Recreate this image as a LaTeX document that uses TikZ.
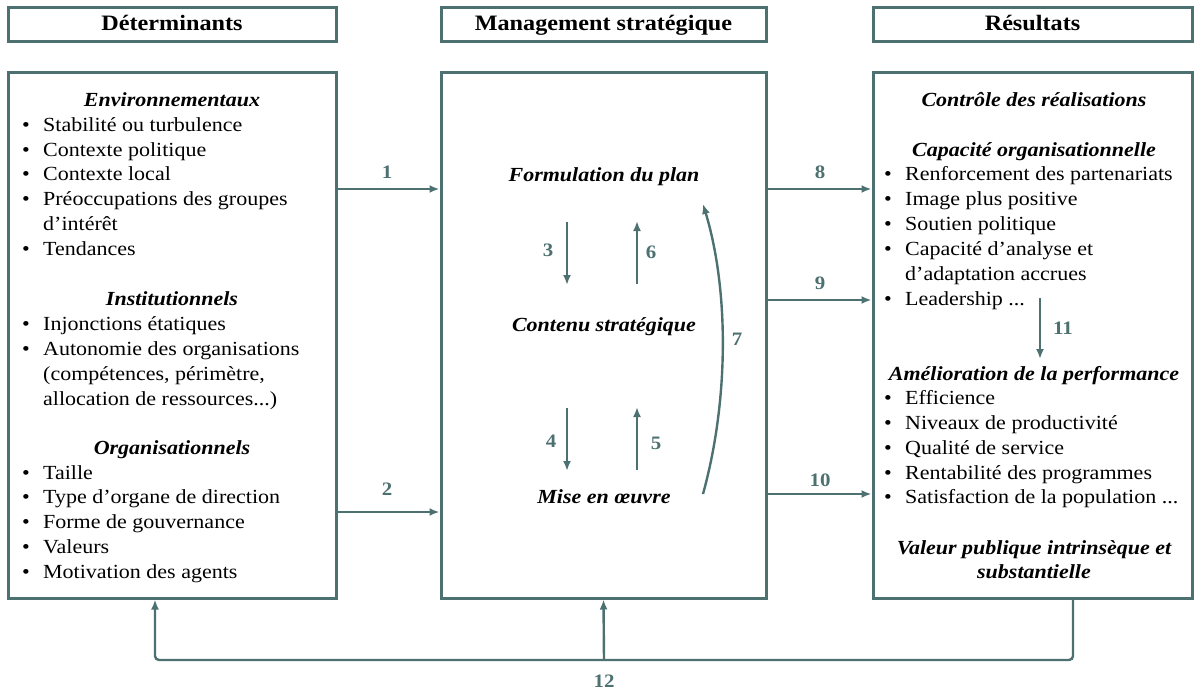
\documentclass[tikz,border=0pt]{standalone}
\usepackage{fontspec}
\setmainfont[FakeStretch=1.1]{Liberation Serif}
\usetikzlibrary{arrows.meta,calc}
\definecolor{teal}{HTML}{4D7171}
\newcommand\bul{\makebox[21pt][l]{\textbullet}}
\tikzset{
  box/.style={draw=teal,line width=3pt,inner sep=0pt},
  hdr/.style={box,minimum height=34pt,text height=15pt,text depth=4pt,font=\fontsize{22}{26}\selectfont\bfseries},
  txt/.style={anchor=base west,inner sep=0pt,font=\fontsize{20}{24}\selectfont},
  ttl/.style={anchor=base,inner sep=0pt,font=\fontsize{20}{24}\selectfont\bfseries\itshape},
  arr/.style={draw=teal,line width=2.4pt,-{Latex[length=10pt,width=8pt]}},
  num/.style={inner sep=0pt,text=teal,font=\fontsize{19}{21}\selectfont\bfseries},
}
\begin{document}
\begin{tikzpicture}[x=1pt,y=-1pt]
\useasboundingbox (0,0) rectangle (1195,690);
% headers
\node[hdr,minimum width=328pt] (h1) at (172,25) {Déterminants};
\node[hdr,minimum width=325pt] (h2) at (603.5,25) {Management stratégique};
\node[hdr,minimum width=319pt] (h3) at (1032.5,25) {Résultats};
% main boxes
\node[box,minimum width=328pt,minimum height=525pt] (det) at (172,335.5) {};
\node[box,minimum width=325pt,minimum height=525pt] (man) at (603.5,335.5) {};
\node[box,minimum width=319pt,minimum height=525pt] (res) at (1032.5,335.5) {};
% left texts
\node[ttl] (t1) at (172,107) {Environnementaux};
\node[ttl] (t2) at (172,305) {Institutionnels};
\node[ttl] (t3) at (172,454) {Organisationnels};
\foreach \yy/\t [count=\i] in {
  132/{\bul Stabilité ou turbulence},
  157/{\bul Contexte politique},
  181/{\bul Contexte local},
  206/{\bul Préoccupations des groupes},
  230/{\hspace*{21pt}d’intérêt},
  255/{\bul Tendances},
  330/{\bul Injonctions étatiques},
  355/{\bul Autonomie des organisations},
  380/{\hspace*{21pt}(compétences, périmètre,},
  405/{\hspace*{21pt}allocation de ressources...)},
  479/{\bul Taille},
  503/{\bul Type d’organe de direction},
  528/{\bul Forme de gouvernance},
  553/{\bul Valeurs},
  578/{\bul Motivation des agents}}
  \node[txt] (l\i) at (22,\yy) {\t};
% middle texts
\node[ttl] (m1) at (604,182) {Formulation du plan};
\node[ttl] (m2) at (604,331) {Contenu stratégique};
\node[ttl] (m3) at (604,503) {Mise en œuvre};
% right texts
\node[ttl] (r1) at (1034,107) {Contrôle des réalisations};
\node[ttl] (r2) at (1034,157) {Capacité organisationnelle};
\node[ttl] (r3) at (1034,380) {Amélioration de la performance};
\node[ttl] (r4) at (1034,554) {Valeur publique intrinsèque et};
\node[ttl] (r5) at (1034,578) {substantielle};
\foreach \yy/\t [count=\i] in {
  181/{\bul Renforcement des partenariats},
  206/{\bul Image plus positive},
  230/{\bul Soutien politique},
  255/{\bul Capacité d’analyse et},
  280/{\hspace*{21pt}d’adaptation accrues},
  305/{\bul Leadership ...},
  404/{\bul Efficience},
  429/{\bul Niveaux de productivité},
  454/{\bul Qualité de service},
  479/{\bul Rentabilité des programmes},
  503/{\bul Satisfaction de la population ...}}
  \node[txt] (q\i) at (884,\yy) {\t};
% connectors between boxes
\draw[arr] (det.east |- 0,189) -- (man.west |- 0,189);
\draw[arr] (det.east |- 0,512) -- (man.west |- 0,512);
\draw[arr] (man.east |- 0,189) -- (res.west |- 0,189);
\draw[arr] (man.east |- 0,300) -- (res.west |- 0,300);
\draw[arr] (man.east |- 0,494) -- (res.west |- 0,494);
\node[num] (n1) at (387,172) {1};
\node[num] (n2) at (387,489) {2};
\node[num] (n8) at (820,172) {8};
\node[num] (n9) at (820,283) {9};
\node[num] (n10) at (820,480) {10};
% inner arrows
\coordinate (a3s) at (567,222); \coordinate (a3e) at (567,285);
\coordinate (a6s) at (637,284); \coordinate (a6e) at (637,221);
\coordinate (a4s) at (567,408); \coordinate (a4e) at (567,471);
\coordinate (a5s) at (637,470); \coordinate (a5e) at (637,407);
\draw[arr] (a3s) -- (a3e);
\draw[arr] (a6s) -- (a6e);
\draw[arr] (a4s) -- (a4e);
\draw[arr] (a5s) -- (a5e);
\node[num] (n3) at (548,250) {3};
\node[num] (n6) at (651,252) {6};
\node[num] (n4) at (551,441) {4};
\node[num] (n5) at (656,443) {5};
\coordinate (a7s) at (703,494); \coordinate (a7e) at (703,204);
\draw[arr] (a7s) .. controls (729,400) and (729,290) .. (a7e);
\node[num] (n7) at (737,339) {7};
% arrow 11
\coordinate (a11s) at (1040,298); \coordinate (a11e) at (1040,359);
\draw[arr] (a11s) -- (a11e);
\node[num] (n11) at (1063,328) {11};
% feedback 12
\coordinate (fb) at (604,660);
\draw[arr,rounded corners=4pt] (res.south -| 1073,0) -- (1073,660) -- (155,660) -- (det.south -| 155,0);
\draw[arr] (fb) -- (man.south);
\node[num] (n12) at (604,681) {12};
\end{tikzpicture}
\end{document}
